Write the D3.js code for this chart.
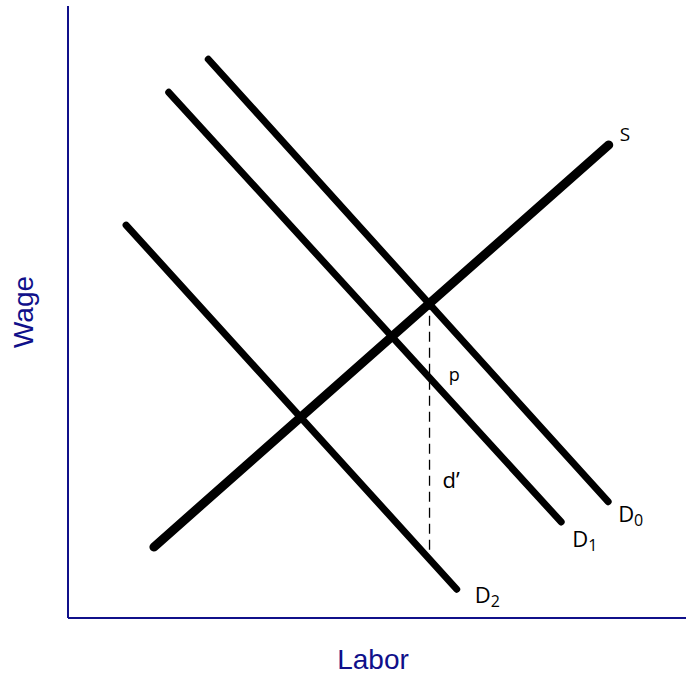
<!DOCTYPE html>
<html><head><meta charset="utf-8">
<script src="https://cdn.jsdelivr.net/npm/d3@7"></script>
<style>body{margin:0;background:#fff}svg{display:block}</style>
</head><body>
<script>
// Data (in abstract chart units 0-100)
const curveNames = ["S", "D0", "D1", "D2"];
const curveSubs = ["", "0", "1", "2"];
const curveStart = [[13.9, 11.6], [22.7, 91.3], [16.3, 85.9], [9.4, 64.2]];
const curveEnd = [[87.5, 77.3], [87.4, 19.0], [79.8, 15.7], [62.9, 4.7]];
const dashX = [58.5];
const dashY = [52.0, 10.9];
const annotations = ["p", "d\u2019"];
const annotationPos = [[61.6, 38.8], [60.6, 21.3]];
const axisTitles = ["Labor", "Wage"];

const W = 686, H = 679;
const svg = d3.select("body").append("svg").attr("width", W).attr("height", H);
const x = d3.scaleLinear().domain([0, 100]).range([68, 686]);
const y = d3.scaleLinear().domain([0, 100]).range([618, 6]);
const axisColor = "#10108a";

// axes
svg.append("line").attr("x1", x(0)).attr("x2", x(0)).attr("y1", y(100)).attr("y2", y(0))
  .attr("stroke", axisColor).attr("stroke-width", 2);
svg.append("line").attr("x1", x(0)).attr("x2", x(100)).attr("y1", y(0)).attr("y2", y(0))
  .attr("stroke", axisColor).attr("stroke-width", 2);

svg.append("text").attr("x", 373).attr("y", 669).attr("text-anchor", "middle")
  .attr("font-family", "Liberation Sans, Arial, sans-serif").attr("font-size", 28)
  .attr("fill", axisColor).text(axisTitles[0]);
svg.append("text").attr("transform", "translate(33,312) rotate(-90)").attr("text-anchor", "middle")
  .attr("font-family", "Liberation Sans, Arial, sans-serif").attr("font-size", 28)
  .attr("fill", axisColor).text(axisTitles[1]);

// dashed line
svg.append("line").attr("x1", x(dashX[0])).attr("x2", x(dashX[0]))
  .attr("y1", y(dashY[0])).attr("y2", y(dashY[1]))
  .attr("stroke", "#000").attr("stroke-width", 1.3).attr("stroke-dasharray", "10,6");

// curves
const widths = [9, 7, 7, 7];
const labelOff = [[11, -4], [10, 20], [11, 25], [18, 14]];
curveNames.forEach((n, i) => {
  svg.append("line")
    .attr("x1", x(curveStart[i][0])).attr("y1", y(curveStart[i][1]))
    .attr("x2", x(curveEnd[i][0])).attr("y2", y(curveEnd[i][1]))
    .attr("stroke", "#000").attr("stroke-width", widths[i]).attr("stroke-linecap", "round");
  const t = svg.append("text")
    .attr("x", x(curveEnd[i][0]) + labelOff[i][0]).attr("y", y(curveEnd[i][1]) + labelOff[i][1])
    .attr("font-family", "Open Sans, sans-serif").attr("font-size", i === 0 ? 19 : 22).attr("fill", "#000");
  t.append("tspan").text(n[0]);
  if (curveSubs[i]) t.append("tspan").attr("font-size", 16).attr("dy", 4).text(curveSubs[i]);
});

annotations.forEach((a, i) => {
  svg.append("text").attr("x", x(annotationPos[i][0])).attr("y", y(annotationPos[i][1]))
    .attr("font-family", "Open Sans, sans-serif").attr("font-size", i === 0 ? 18 : 22)
    .attr("fill", "#000").text(a);
});
</script>
</body></html>
